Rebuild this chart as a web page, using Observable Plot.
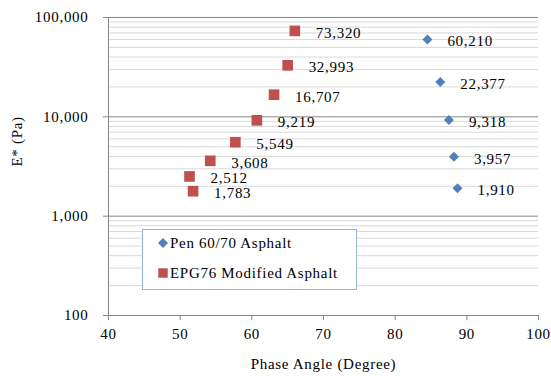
<!DOCTYPE html>
<html>
<head>
<meta charset="utf-8">
<script src="https://cdn.jsdelivr.net/npm/d3@7"></script>
<script src="https://cdn.jsdelivr.net/npm/@observablehq/plot@0.6"></script>
<style>
  body { margin: 0; background: #fff; }
  #chart { position: relative; width: 551px; height: 376px; font-family: "Liberation Serif", "Times New Roman", serif; }
  #chart svg text { letter-spacing: 0.7px; }
  #legend { position: absolute; left: 142px; top: 229px; }
</style>
</head>
<body>
<div id="chart"></div>
<script>
// Complex modulus E* (Pa) against phase angle for two binders
const penAngle   = [84.5, 86.3, 87.5, 88.2, 88.7];
const penModulus = [60210, 22377, 9318, 3957, 1910];

const epgAngle   = [66.0, 65.0, 63.1, 60.7, 57.7, 54.2, 51.3, 51.8];
const epgModulus = [73320, 32993, 16707, 9219, 5549, 3608, 2512, 1783];

const xTicks = [40, 50, 60, 70, 80, 90, 100];
const yMajor = [100, 1000, 10000, 100000];
const yMinor = [200, 300, 400, 500, 600, 700, 800, 900,
                2000, 3000, 4000, 5000, 6000, 7000, 8000, 9000,
                20000, 30000, 40000, 50000, 60000, 70000, 80000, 90000];

const seriesNames = ["Pen 60/70 Asphalt", "EPG76 Modified Asphalt"];
const seriesColors = ["#4f81bd", "#c0504d"];

const pen = penAngle.map((a, i) => ({angle: a, modulus: penModulus[i]}));
const epg = epgAngle.map((a, i) => ({angle: a, modulus: epgModulus[i]}));

const fmt = d3.format(",");
const axisGray = "#868686";
const font = '"Liberation Serif", "Times New Roman", serif';

const plot = Plot.plot({
  width: 551,
  height: 376,
  marginLeft: 108,
  marginRight: 13,
  marginTop: 17,
  marginBottom: 61,
  style: {fontFamily: font, fontSize: "15px", color: "#000", background: "#fff"},
  x: {domain: [40, 100]},
  y: {type: "log", domain: [100, 100000]},
  marks: [
    Plot.gridY(yMinor, {stroke: "#d9d9d9", strokeOpacity: 1, strokeWidth: 1}),
    Plot.gridY(yMajor, {stroke: axisGray, strokeOpacity: 1, strokeWidth: 1}),
    Plot.ruleX([40], {stroke: axisGray}),
    Plot.axisY({ticks: yMajor, tickFormat: fmt, tickSize: 5, tickPadding: 15, stroke: axisGray, label: null, fill: "#000"}),
    Plot.axisX({ticks: xTicks, tickSize: 5, tickPadding: 8, stroke: axisGray, label: null, fill: "#000"}),
    Plot.text(["Phase Angle (Degree)"], {frameAnchor: "bottom", dy: 53, text: d => d, fontSize: 15}),
    Plot.text(["E* (Pa)"], {frameAnchor: "left", dx: -91, rotate: -90, text: d => d, fontSize: 15}),
    Plot.dot(pen, {x: "angle", y: "modulus", symbol: "diamond2", r: 4.5, fill: seriesColors[0], stroke: "none"}),
    Plot.dot(epg, {x: "angle", y: "modulus", symbol: "square", r: 6, fill: seriesColors[1], stroke: "none"}),
    Plot.text(pen, {x: "angle", y: "modulus", text: d => fmt(d.modulus), textAnchor: "start", dx: 20, dy: 2, fontSize: 15}),
    Plot.text(epg, {x: "angle", y: "modulus", text: d => fmt(d.modulus), textAnchor: "start", dx: 21, dy: 2, fontSize: 15})
  ]
});

const chart = document.getElementById("chart");
chart.appendChild(plot);

// Legend box inside the plot area
const lw = 215, lh = 61;
const legend = d3.create("svg")
  .attr("id", "legend")
  .attr("width", lw)
  .attr("height", lh)
  .style("font-family", font)
  .style("font-size", "15px");
legend.append("rect")
  .attr("x", 0.5).attr("y", 0.5)
  .attr("width", lw - 1).attr("height", lh - 1)
  .attr("fill", "#fff").attr("stroke", "#95b3d7");
const rows = legend.selectAll("g").data(seriesNames).join("g")
  .attr("transform", (d, i) => `translate(21,${14 + i * 30})`);
rows.append("path")
  .attr("d", (d, i) => i === 0
    ? d3.symbol(d3.symbolDiamond2, 64)()
    : d3.symbol(d3.symbolSquare, 90)())
  .attr("fill", (d, i) => seriesColors[i]);
rows.append("text")
  .attr("x", 7)
  .attr("dy", "0.32em")
  .style("letter-spacing", "0.7px")
  .text(d => d);
chart.appendChild(legend.node());
</script>
</body>
</html>
